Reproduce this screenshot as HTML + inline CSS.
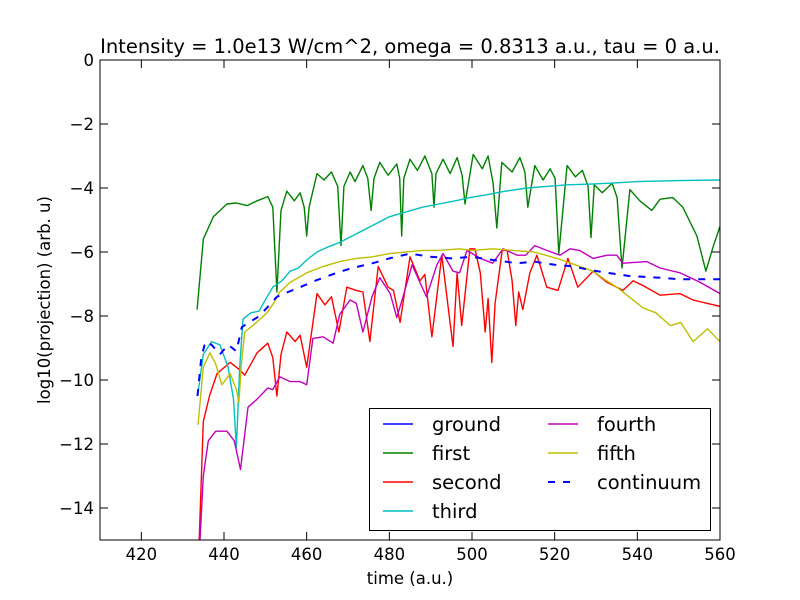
<!DOCTYPE html>
<html><head><meta charset="utf-8"><style>
body{margin:0;background:#fff;}
svg{display:block;font-family:"DejaVu Sans","Liberation Sans",sans-serif;}
</style></head><body>
<svg id="chart" width="800" height="600" viewBox="0 0 800 600">
<rect width="800" height="600" fill="#fff"/>
<text x="410" y="53" font-size="19.5" text-anchor="middle">Intensity = 1.0e13 W/cm^2, omega = 0.8313 a.u., tau = 0 a.u.</text>
<text x="410" y="584" font-size="16.5" text-anchor="middle">time (a.u.)</text>
<text transform="translate(50,300) rotate(-90)" font-size="16.5" text-anchor="middle">log10(projection) (arb. u)</text>
<g id="ticks"></g>
<clipPath id="clip"><rect x="100" y="60" width="620" height="480"/></clipPath>
<g id="series" clip-path="url(#clip)"></g>
<rect x="100" y="60" width="620" height="480" fill="none" stroke="#000" stroke-width="1"/>
<g id="legend">
<rect x="369.5" y="408.5" width="341" height="122" fill="#fff" stroke="#000"/>
</g>
</svg>
<script>
const xTicks=[420,440,460,480,500,520,540,560];
const yTicks=[0,-2,-4,-6,-8,-10,-12,-14];
const seriesNames=["ground","first","second","third","fourth","fifth","continuum"];
const seriesColors=["#0000ff","#008000","#ff0000","#00bfbf","#bf00bf","#bfbf00","#0000ff"];
const firstT=[433.5,435,437.4,440.7,443,445.6,448,450.6,451.8,452.8,453.8,455.2,457,458.4,459.4,460,460.6,462.5,464.2,466,467.5,468.3,469,470.5,471.7,473.6,474.8,475.6,476.3,477.7,479.7,481.8,482.5,483,483.5,485,486.8,488.6,490.3,490.8,491.3,493,494.7,496.4,497.6,498.3,500.3,502.5,503.9,505.1,506,507.2,509.7,511.6,512.8,513.5,515.2,517.2,518.9,520.1,521,523,525,526.7,528.1,528.8,529.6,531.5,533.9,535.1,536.3,538.2,540.6,543.5,545.5,548.6,551,554.4,556.6,558.3,560];
const firstV=[-7.8,-5.6,-4.9,-4.5,-4.47,-4.55,-4.4,-4.27,-4.6,-7.25,-4.7,-4.1,-4.4,-4.15,-4.6,-5.5,-4.6,-3.55,-3.75,-3.5,-3.95,-5.8,-3.95,-3.5,-3.8,-3.3,-3.7,-4.7,-3.7,-3.2,-3.6,-3.25,-3.7,-5.5,-3.7,-3.1,-3.45,-3.0,-3.55,-4.6,-3.55,-3.1,-3.55,-3.05,-3.6,-4.5,-2.95,-3.4,-3.0,-3.85,-5.25,-3.2,-3.5,-3.05,-3.5,-4.6,-3.3,-3.75,-3.4,-3.7,-6.05,-3.3,-3.65,-3.45,-3.95,-5.55,-3.9,-4.15,-3.85,-4.3,-6.5,-4.05,-4.4,-4.7,-4.35,-4.3,-4.6,-5.5,-6.6,-5.85,-5.2];
const secondT=[434,435,436.5,438.3,441.5,444,445,448,450.6,451.8,452.8,453.8,455.2,457.2,458.4,460,462.5,464.4,466,467.8,469.7,472,473.6,475.3,477.3,479.7,481,482.6,485,487.4,488.6,490.3,492.7,495.4,496.4,497.5,499.5,500.7,502,503.2,503.9,504.8,505.6,507.3,508.5,509.7,510.6,511.3,512.3,514,515.7,518.1,520.8,523.2,525.6,529.3,532.7,536.5,539,541.4,545.5,550.3,553.5,560];
const secondV=[-15,-11.3,-10.5,-9.8,-9.45,-9.7,-9.85,-9.15,-8.85,-9.3,-10.5,-9.2,-8.5,-8.8,-8.6,-9.6,-7.3,-7.65,-7.4,-8.5,-7.1,-7.2,-7.25,-8.8,-6.45,-7.1,-7.2,-8.2,-6.15,-6.9,-6.7,-8.65,-6.1,-8.95,-6.65,-8.3,-5.9,-5.9,-6.65,-8.5,-7.45,-9.45,-7.6,-5.95,-5.95,-6.9,-8.3,-7.25,-7.8,-6.65,-6.1,-7.1,-7.2,-6.2,-7.1,-6.6,-6.95,-7.2,-6.9,-7.05,-7.35,-7.3,-7.5,-7.7];
const thirdT=[433.7,435,437,439,441,442.3,443,443.8,444.6,446.5,448.5,450,451.8,454,456,458,460,462.5,465,468,471,474,477,480,484,488,492,496,499.5,504,508,513.3,518,523,528,533.4,540,550,560];
const thirdV=[-10.4,-9.2,-8.8,-8.9,-9.6,-10.6,-12.1,-9.6,-8.1,-7.9,-7.85,-7.5,-7.1,-6.9,-6.6,-6.5,-6.25,-6.0,-5.85,-5.7,-5.5,-5.3,-5.1,-4.9,-4.75,-4.6,-4.5,-4.4,-4.3,-4.2,-4.1,-4.0,-3.95,-3.9,-3.88,-3.85,-3.8,-3.77,-3.75];
const fourthT=[434.2,435,436.2,438,440.7,442.5,444,445.8,448,450.6,451.8,453.5,456,458.4,460,461.5,464,466.4,468,470.5,472,473.6,475.8,477.7,480.2,481.8,483.3,485.5,487.4,489,491.5,493,495.4,497,498.8,502,505,507.5,510.9,513,515.2,518.1,521.3,523.7,526,529.3,532.7,535,536.5,542.3,545.5,550.3,555.2,560];
const fourthV=[-15,-13,-11.9,-11.6,-11.6,-11.9,-12.8,-10.85,-10.6,-10.25,-10.3,-9.9,-10.05,-10.05,-10.15,-8.7,-8.65,-8.85,-7.95,-7.5,-7.6,-8.5,-7.4,-6.8,-7.3,-8.05,-7.4,-6.4,-6.95,-7.4,-6.4,-6.05,-6.6,-6.65,-5.95,-6.2,-6.35,-5.9,-6.1,-6.1,-5.8,-5.95,-6.1,-5.9,-5.95,-6.2,-6.1,-6.1,-6.35,-6.3,-6.5,-6.65,-6.95,-7.3];
const fifthT=[433.7,435,436.6,438,439.5,441.5,443,443.6,444.2,445,447,450.4,452,453.5,456,458,460,464,468,472,476,480,484,488,492,497,500,505,510,515,520.6,525,529.3,532,535,538,541.4,544.5,548,550.5,553.5,557,560];
const fifthV=[-11.4,-9.6,-9.15,-9.5,-10.15,-9.8,-10.3,-10.7,-9.5,-8.5,-8.3,-7.9,-7.6,-7.25,-6.95,-6.8,-6.65,-6.45,-6.3,-6.2,-6.15,-6.05,-6.0,-5.95,-5.95,-5.9,-5.95,-5.9,-5.95,-6.0,-6.2,-6.4,-6.6,-6.85,-7.1,-7.4,-7.75,-7.9,-8.3,-8.2,-8.8,-8.4,-8.8];
const contT=[433.6,434.5,435.5,437,439,441,443,444.3,446,448,450,452.8,455.5,458.4,462,467.3,471,476,480,485,490,495,500,505,511,515,520,524.5,528,532.7,538,545,550,560];
const contV=[-10.5,-9.3,-8.8,-8.9,-9.2,-8.9,-9.1,-8.35,-8.2,-8.05,-7.8,-7.4,-7.25,-7.1,-6.9,-6.65,-6.5,-6.35,-6.2,-6.05,-6.15,-6.2,-6.15,-6.25,-6.35,-6.3,-6.4,-6.45,-6.55,-6.65,-6.75,-6.8,-6.85,-6.85];

const NS="http://www.w3.org/2000/svg";
function sx(t){return 100+(t-410)/150*620;}
function sy(v){return 60+(0-v)/15*480;}
const tickG=document.getElementById('ticks');
xTicks.forEach(t=>{
  const x=sx(t);
  for(const [y1,y2] of [[540,532],[60,68]]){
    const l=document.createElementNS(NS,'line');
    l.setAttribute('x1',x);l.setAttribute('x2',x);l.setAttribute('y1',y1);l.setAttribute('y2',y2);
    l.setAttribute('stroke','#000');
    
    
    tickG.appendChild(l);
  }
  const tx=document.createElementNS(NS,'text');
  tx.setAttribute('x',x);tx.setAttribute('y',560);tx.setAttribute('font-size','16.5');tx.setAttribute('text-anchor','middle');
  tx.textContent=t;
  
  
  tickG.appendChild(tx);
});
yTicks.forEach(v=>{
  const y=sy(v);
  for(const [x1,x2] of [[100,108],[720,712]]){
    const l=document.createElementNS(NS,'line');
    l.setAttribute('x1',x1);l.setAttribute('x2',x2);l.setAttribute('y1',y);l.setAttribute('y2',y);
    l.setAttribute('stroke','#000');
    
    
    tickG.appendChild(l);
  }
  const tx=document.createElementNS(NS,'text');
  tx.setAttribute('x',94);tx.setAttribute('y',y+6);tx.setAttribute('font-size','16.5');tx.setAttribute('text-anchor','end');
  tx.textContent=(v<0?'\u2212'+(-v):v);
  
  
  tickG.appendChild(tx);
});
const serG=document.getElementById('series');
const all=[[firstT,firstV,1],[secondT,secondV,2],[thirdT,thirdV,3],[fourthT,fourthV,4],[fifthT,fifthV,5],[contT,contV,6]];
all.forEach(([T,V,i])=>{
  const p=document.createElementNS(NS,'polyline');
  p.setAttribute('points',T.map((t,k)=>sx(t).toFixed(1)+','+sy(V[k]).toFixed(1)).join(' '));
  p.setAttribute('fill','none');p.setAttribute('stroke',seriesColors[i]);
  p.setAttribute('stroke-width',i===6?'2':'1.4');
  p.setAttribute('stroke-linejoin','round');
  if(i===6)p.setAttribute('stroke-dasharray','7,8');
  
  
  serG.appendChild(p);
});
const legG=document.getElementById('legend');
seriesNames.forEach((n,i)=>{
  const col=i<4?0:1,row=i<4?i:i-4;
  const lx=col?548:383, ty=424+row*29;
  const g=document.createElementNS(NS,'g');
  
  
  const l=document.createElementNS(NS,'line');
  l.setAttribute('x1',lx);l.setAttribute('x2',lx+30);l.setAttribute('y1',ty);l.setAttribute('y2',ty);
  l.setAttribute('stroke',seriesColors[i]);l.setAttribute('stroke-width',i===6?'2':'1.4');
  if(i===6)l.setAttribute('stroke-dasharray','7,8');
  
  
  const t=document.createElementNS(NS,'text');
  t.setAttribute('x',col?597:432);t.setAttribute('y',ty+7);t.setAttribute('font-size','19.5');
  t.textContent=n;
  
  
  g.appendChild(l);g.appendChild(t);legG.appendChild(g);
});
</script>
</body></html>
